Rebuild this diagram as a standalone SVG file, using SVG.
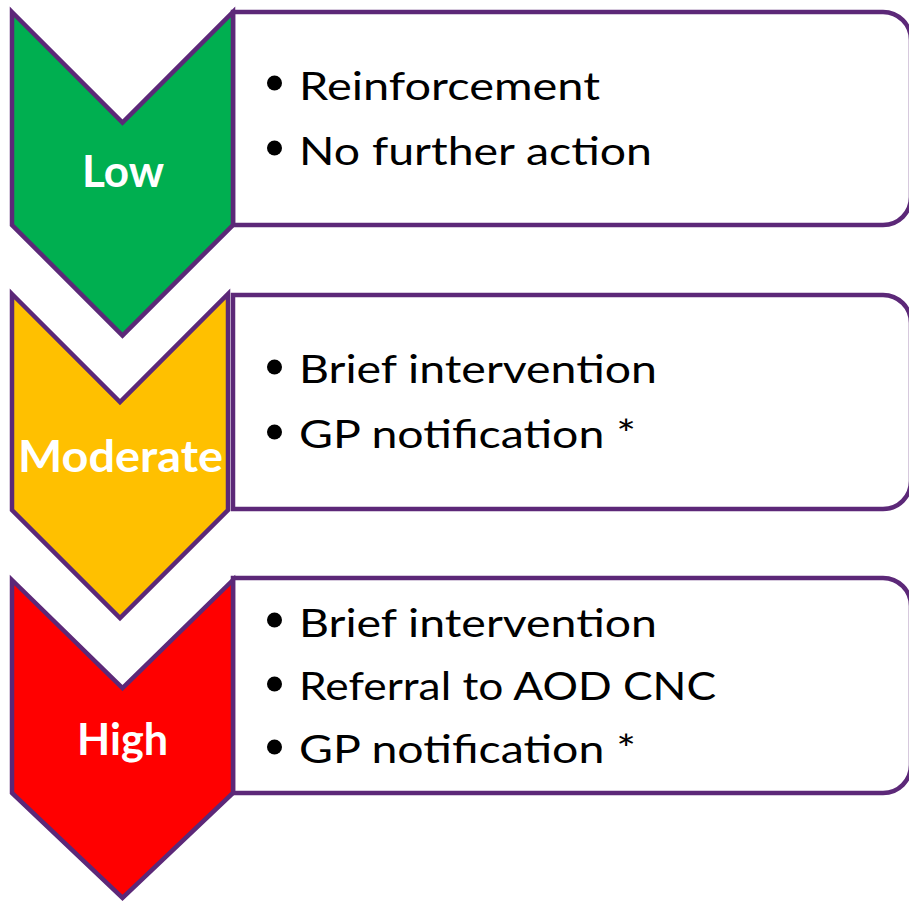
<svg xmlns="http://www.w3.org/2000/svg" width="909" height="904" viewBox="0 0 909 904">
<style>
.box{fill:#fff;stroke:#5C2878;stroke-width:4.5}
.chev{stroke:#5C2878;stroke-width:4.5;stroke-linejoin:miter}
.lbl{font-family:Lato,"Liberation Sans",sans-serif;font-weight:bold;font-size:44px;fill:#fff;text-anchor:middle}
.txt{font-family:Lato,"Liberation Sans",sans-serif;font-size:39px;fill:#000}
.dot{fill:#000}
</style>
<rect width="909" height="904" fill="#fff"/>
<g id="box-low">
<path class="box" d="M233 12 H883 A28 28 0 0 1 911 40 V197 A28 28 0 0 1 883 225 H233 Z"/>
<circle class="dot" cx="274.5" cy="83" r="7.5"/>
<text class="txt" x="299" y="100" textLength="301" lengthAdjust="spacingAndGlyphs">Reinforcement</text>
<circle class="dot" cx="274.5" cy="148" r="7.5"/>
<text class="txt" x="299" y="165" textLength="353" lengthAdjust="spacingAndGlyphs">No further action</text>
</g>
<g id="box-moderate">
<path class="box" d="M233 295 H883 A28 28 0 0 1 911 323 V481 A28 28 0 0 1 883 509 H233 Z"/>
<circle class="dot" cx="274.5" cy="367" r="7.5"/>
<text class="txt" x="299" y="383" textLength="358" lengthAdjust="spacingAndGlyphs">Brief intervention</text>
<circle class="dot" cx="274.5" cy="432" r="7.5"/>
<text class="txt" x="299" y="448" textLength="337" lengthAdjust="spacingAndGlyphs">GP notification *</text>
</g>
<g id="box-high">
<path class="box" d="M233 578 H883 A28 28 0 0 1 911 606 V765 A28 28 0 0 1 883 793 H233 Z"/>
<circle class="dot" cx="274.5" cy="620" r="7.5"/>
<text class="txt" x="299" y="637" textLength="358" lengthAdjust="spacingAndGlyphs">Brief intervention</text>
<circle class="dot" cx="274.5" cy="684" r="7.5"/>
<text class="txt" x="299" y="700" textLength="417" lengthAdjust="spacingAndGlyphs">Referral to AOD CNC</text>
<circle class="dot" cx="274.5" cy="747" r="7.5"/>
<text class="txt" x="299" y="763" textLength="337" lengthAdjust="spacingAndGlyphs">GP notification *</text>
</g>
<g id="chev-low">
<path class="chev" fill="#00AF50" d="M12 12 L122.5 122.5 L233 12 V225 L122.5 335.5 L12 225 Z"/>
<text class="lbl" x="123" y="187" textLength="82" lengthAdjust="spacingAndGlyphs">Low</text>
</g>
<g id="chev-moderate">
<path class="chev" fill="#FFC000" d="M12 294 L120 402 L228 294 V510 L120 618 L12 510 Z"/>
<text class="lbl" x="120.5" y="472" textLength="205" lengthAdjust="spacingAndGlyphs">Moderate</text>
</g>
<g id="chev-high">
<path class="chev" fill="#FF0000" d="M12 580 L122.5 688 L233 580 V793 L122.5 898 L12 793 Z"/>
<text class="lbl" x="122.5" y="755" textLength="91" lengthAdjust="spacingAndGlyphs">High</text>
</g>
<g id="connectors"></g>
</svg>
